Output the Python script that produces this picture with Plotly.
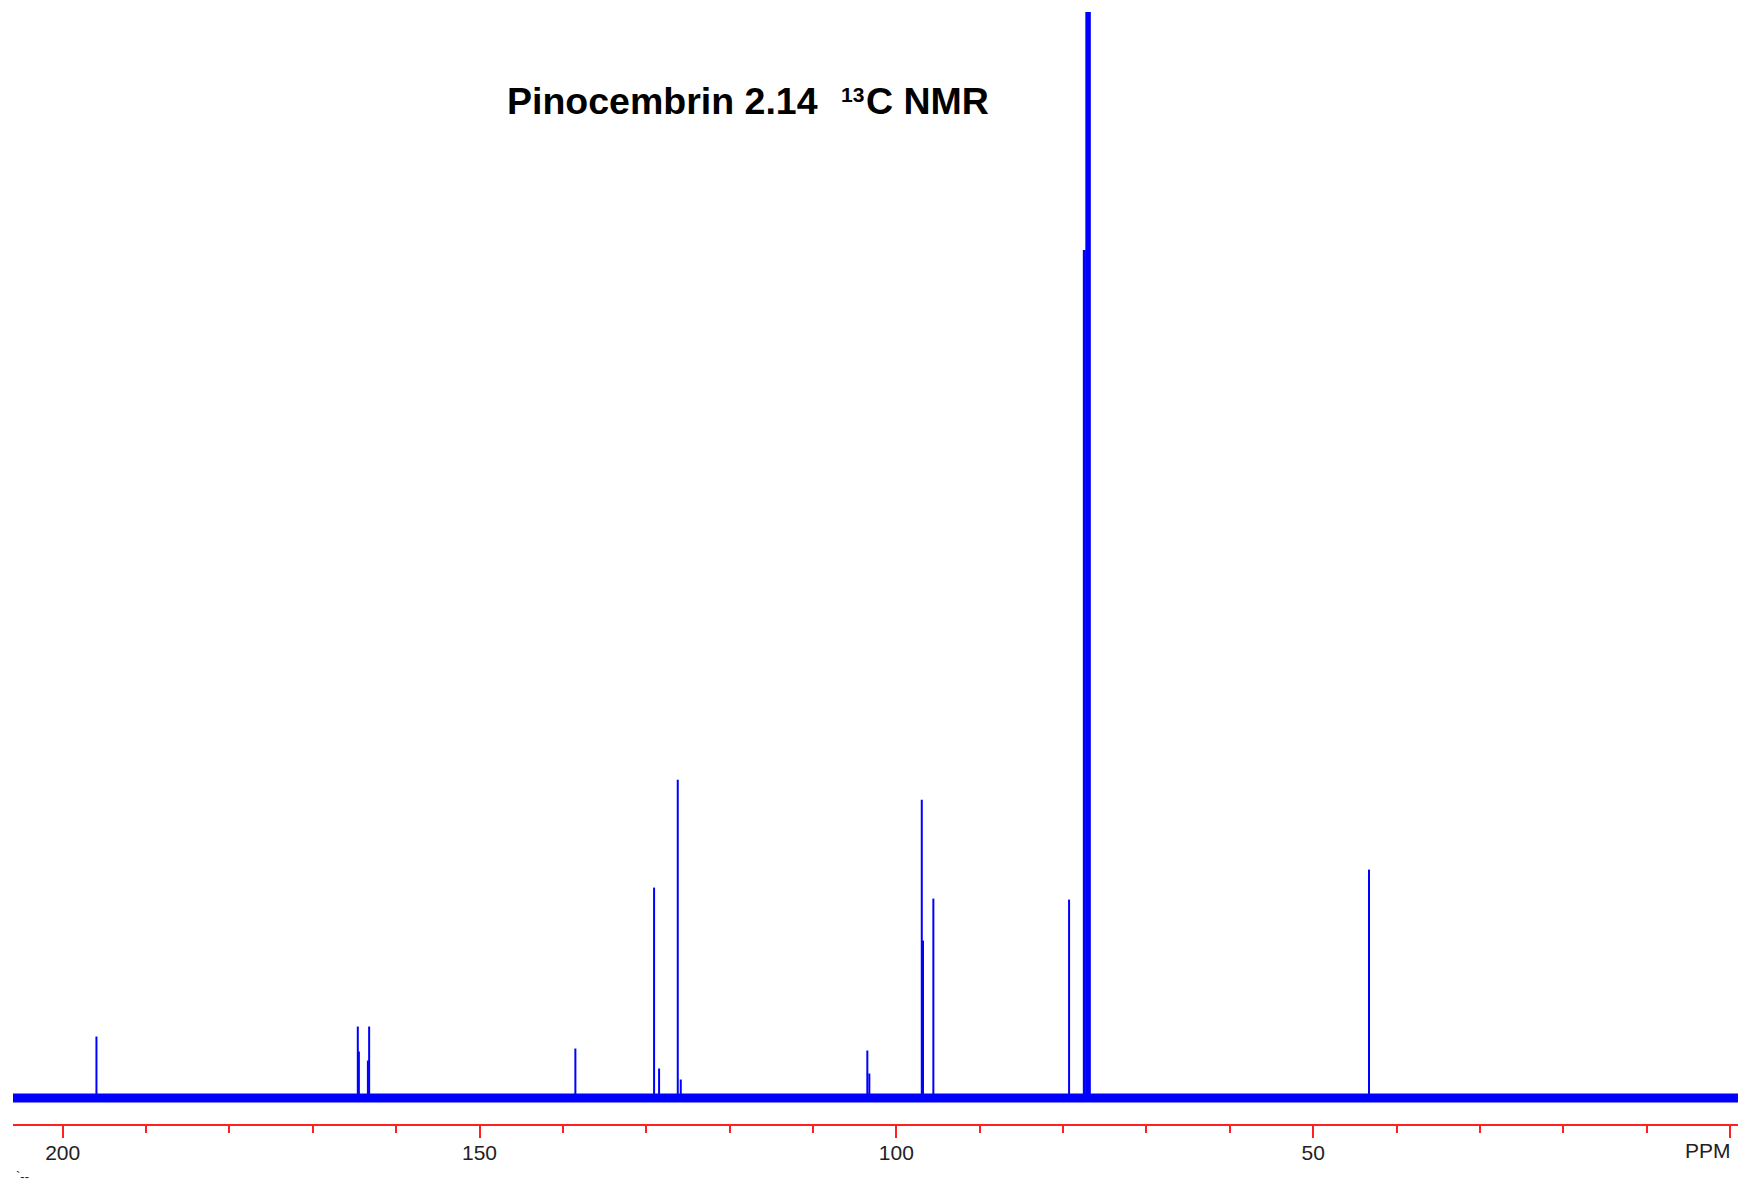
import plotly.graph_objects as go

# ---- data ----
peak_ppm = [195.95, 164.60, 164.47, 163.39, 163.24, 138.50, 129.06, 128.46,
            126.22, 125.86, 103.48, 103.24, 96.95, 96.80, 95.56, 79.28, 43.30]
peak_int = [61, 71, 46, 37, 71, 49, 210, 29,
            318, 18, 47, 24, 298, 157, 199, 198, 228]
solvent_ppm = [77.45, 77.15, 76.85]
solvent_int = [848, 2000, 2000]
tick_vals = [200, 150, 100, 50, 0]
tick_text = ["200", "150", "100", "50", ""]
title_main = "Pinocembrin 2.14"
title_sup = "13"
title_rest = "C NMR"

X_RANGE = [205.96, -0.96]
Y_RANGE = [-26.5, 1086]

W, H = 1738, 1184
ML, MR, MT, MB = 13, 0, 12, 60
PW, PH = W - ML - MR, H - MT - MB


def px(x):
    return (x - ML) / PW


def py(y):
    return (H - MB - y) / PH


def sticks(pp, ii):
    xs, ys = [], []
    for p, i in zip(pp, ii):
        xs += [p, p, None]
        ys += [0, i, None]
    return xs, ys


fig = go.Figure()
# baseline (noise band)
fig.add_trace(go.Scatter(x=X_RANGE, y=[-0.5, -0.5], mode="lines",
                         line=dict(color="#0000ff", width=9), hoverinfo="skip"))
sx, sy = sticks(peak_ppm, peak_int)
fig.add_trace(go.Scatter(x=sx, y=sy, mode="lines",
                         line=dict(color="#0000ff", width=2), hoverinfo="skip"))
vx, vy = sticks(solvent_ppm, solvent_int)
fig.add_trace(go.Scatter(x=vx, y=vy, mode="lines",
                         line=dict(color="#0000ff", width=3), hoverinfo="skip"))

fig.update_layout(
    width=W, height=H,
    margin=dict(l=ML, r=MR, t=MT, b=MB),
    paper_bgcolor="white", plot_bgcolor="white",
    showlegend=False,
    xaxis=dict(range=X_RANGE, showgrid=False, zeroline=False,
               showline=True, linecolor="#ff2020", linewidth=2,
               ticks="outside", ticklen=12, tickwidth=2, tickcolor="#ff2020",
               tickmode="array", tickvals=tick_vals, ticktext=tick_text,
               ticklabelstandoff=-3,
               tickfont=dict(family="Liberation Sans", size=21, color="#222222"),
               minor=dict(ticks="outside", ticklen=7, tickwidth=2,
                          tickcolor="#ff2020", dtick=10, tick0=0, showgrid=False)),
    yaxis=dict(range=Y_RANGE, visible=False, showgrid=False, zeroline=False),
)

title_font = dict(family="Liberation Sans", size=37.5, color="black")
fig.add_annotation(xref="paper", yref="paper", x=px(820), y=py(101),
                   text="<b>%s</b>" % title_main, showarrow=False,
                   xanchor="right", yanchor="middle", font=title_font)
fig.add_annotation(xref="paper", yref="paper", x=px(839), y=py(95),
                   text="<b>%s</b>" % title_sup, showarrow=False,
                   xanchor="left", yanchor="middle",
                   font=dict(family="Liberation Sans", size=21, color="black"))
fig.add_annotation(xref="paper", yref="paper", x=px(864), y=py(101),
                   text="<b>%s</b>" % title_rest, showarrow=False,
                   xanchor="left", yanchor="middle", font=title_font)
fig.add_annotation(xref="paper", yref="paper", x=px(1733), y=py(1150),
                   text="PPM", showarrow=False, xanchor="right", yanchor="middle",
                   font=dict(family="Liberation Sans", size=21, color="#222222"))
fig.add_annotation(xref="paper", yref="paper", x=px(14), y=py(1167),
                   text="`--", showarrow=False, xanchor="left", yanchor="top",
                   font=dict(family="Liberation Sans", size=13, color="#222222"))

fig.write_html("out.html", config={"displayModeBar": False},
               post_script="document.body.style.margin='0';document.body.style.overflow='hidden';")
